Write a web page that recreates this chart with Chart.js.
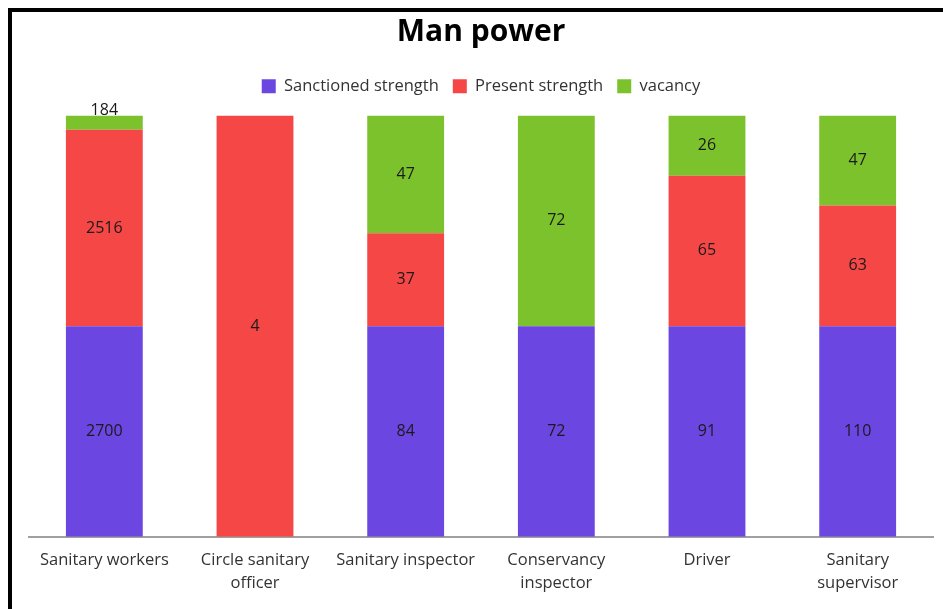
<!DOCTYPE html>
<html>
<head>
<meta charset="utf-8">
<script src="https://cdn.jsdelivr.net/npm/chart.js@4/dist/chart.umd.min.js"></script>
<style>
  html, body { margin: 0; padding: 0; background: #fff; }
  body { width: 943px; height: 609px; overflow: hidden; position: relative; }
  #frame {
    position: absolute; left: 8px; top: 8px; width: 1000px; height: 1000px;
    border-left: 4px solid #000; border-top: 4px solid #000; box-sizing: border-box;
  }
  #wrap { position: absolute; left: 0; top: 0; width: 943px; height: 609px; }
</style>
</head>
<body>
<div id="frame"></div>
<div id="wrap"><canvas id="c" width="943" height="609"></canvas></div>
<script>
// Staffing by post
const categories = [
  ["Sanitary workers"],
  ["Circle sanitary", "officer"],
  ["Sanitary inspector"],
  ["Conservancy", "inspector"],
  ["Driver"],
  ["Sanitary", "supervisor"]
];
const sanctioned = [2700, null, 84, 72, 91, 110];
const present    = [2516, 4, 37, null, 65, 63];
const vacancy    = [184, null, 47, 72, 26, 47];

const seriesNames  = ["Sanctioned strength", "Present strength", "vacancy"];
const seriesColors = ["#6B46E1", "#F64747", "#7CC22D"];
const seriesRaw    = [sanctioned, present, vacancy];

// Each column is shown as shares of its own total (100% stacked)
const totals = categories.map((_, i) =>
  seriesRaw.reduce((s, arr) => s + (arr[i] || 0), 0));
const asShare = arr => arr.map((v, i) => v == null ? null : v / totals[i] * 100);

const FONT = "'Open Sans', 'DejaVu Sans', sans-serif";

// Writes each segment's count at its middle
const segmentLabels = {
  id: 'segmentLabels',
  afterDatasetsDraw(chart) {
    const ctx = chart.ctx;
    ctx.save();
    ctx.font = "16px " + FONT;
    ctx.fillStyle = "#1a1a1a";
    ctx.textAlign = "center";
    ctx.textBaseline = "middle";
    chart.data.datasets.forEach((ds, di) => {
      const meta = chart.getDatasetMeta(di);
      meta.data.forEach((bar, i) => {
        const raw = seriesRaw[di][i];
        if (raw == null) return;
        const top = Math.min(bar.y, bar.base);
        const h = Math.abs(bar.base - bar.y);
        let y = top + h / 2;
        if (h < 18) y = top - 5;
        ctx.fillText(String(raw), bar.x, y);
      });
    });
    ctx.restore();
  }
};

// Extra room between the legend and the bars
const legendGap = {
  id: 'legendGap',
  beforeInit(chart) {
    const fit = chart.legend.fit;
    chart.legend.fit = function () {
      fit.bind(chart.legend)();
      this.height += 11;
    };
  }
};

new Chart(document.getElementById('c'), {
  type: 'bar',
  data: {
    labels: categories,
    datasets: seriesNames.map((name, k) => ({
      label: name,
      data: asShare(seriesRaw[k]),
      backgroundColor: seriesColors[k],
      borderWidth: 0,
      categoryPercentage: 1.0,
      barPercentage: 0.51
    }))
  },
  options: {
    responsive: false,
    animation: false,
    devicePixelRatio: 1,
    layout: { padding: { left: 29, right: 10, top: 5, bottom: 2 } },
    plugins: {
      title: {
        display: true,
        text: "Man power",
        color: "#000",
        font: { family: FONT, size: 30, weight: 'bold' },
        padding: { top: 9, bottom: 14 }
      },
      legend: {
        position: 'top',
        labels: {
          color: "#333333",
          font: { family: FONT, size: 16.5 },
          boxWidth: 14, boxHeight: 14,
          padding: 14
        }
      },
      tooltip: { enabled: false }
    },
    scales: {
      x: {
        stacked: true,
        grid: { display: false, drawTicks: false },
        border: { display: true, color: "#A0A0A0", width: 2 },
        ticks: {
          color: "#333333",
          font: { family: FONT, size: 16.5, lineHeight: 1.4 },
          padding: 12,
          maxRotation: 0, autoSkip: false
        }
      },
      y: {
        stacked: true,
        display: false,
        min: 0, max: 100
      }
    }
  },
  plugins: [segmentLabels, legendGap]
});
</script>
</body>
</html>
